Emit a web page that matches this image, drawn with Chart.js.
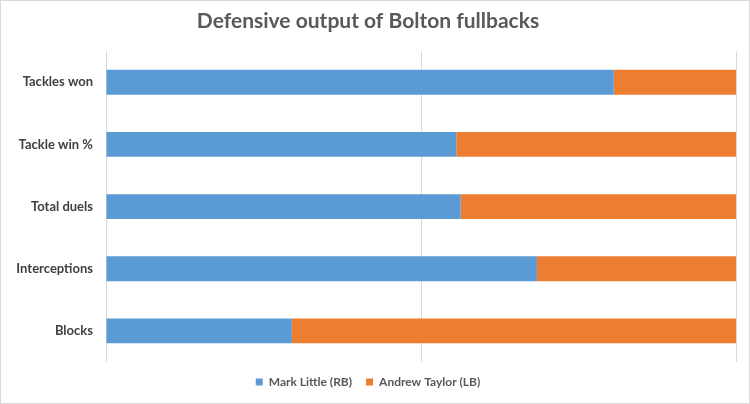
<!DOCTYPE html>
<html>
<head>
<meta charset="utf-8">
<script src="https://cdn.jsdelivr.net/npm/chart.js@4.4.0/dist/chart.umd.min.js"></script>
<style>
    html, body { margin: 0; padding: 0; background: #fff; }
    #wrap { width: 750px; height: 404px; position: relative; }
</style>
</head>
<body>
<div id="wrap"><canvas id="chart" width="750" height="404"></canvas></div>
<script>
// share of each stat, in percent
const categories = ['Tackles won', 'Tackle win %', 'Total duels', 'Interceptions', 'Blocks'];
const markLittle = [80.6, 55.6, 56.3, 68.4, 29.5];
const andrewTaylor = [19.4, 44.4, 43.7, 31.6, 70.5];
const xTicks = [0, 50, 100];

const fontFamily = 'Lato, "Open Sans", sans-serif';

// thin grey frame round the whole chart
const framePlugin = {
    id: 'frame',
    afterDraw(chart) {
        const c = chart.ctx;
        c.save();
        c.strokeStyle = '#D9D9D9';
        c.lineWidth = 1;
        c.strokeRect(0.5, 0.5, chart.width - 1, chart.height - 1);
        c.restore();
    }
};

const ctx = document.getElementById('chart').getContext('2d');

new Chart(ctx, {
    type: 'bar',
    data: {
        labels: categories,
        datasets: [{
            label: 'Mark Little (RB)',
            data: markLittle,
            backgroundColor: '#5B9BD5',
            barPercentage: 0.8,
            categoryPercentage: 0.5
        }, {
            label: 'Andrew Taylor (LB)',
            data: andrewTaylor,
            backgroundColor: '#ED7D31',
            barPercentage: 0.8,
            categoryPercentage: 0.5
        }]
    },
    plugins: [framePlugin],
    options: {
        indexAxis: 'y',
        responsive: false,
        animation: false,
        layout: {
            padding: { left: 0, right: 14, top: 0, bottom: 6 }
        },
        plugins: {
            title: {
                display: true,
                text: 'Defensive output of Bolton fullbacks',
                color: '#595959',
                font: { family: fontFamily, size: 21, weight: 'bold' },
                padding: { top: 9, bottom: 17 }
            },
            legend: {
                position: 'bottom',
                labels: {
                    color: '#595959',
                    font: { family: fontFamily, size: 12, weight: 'bold' },
                    boxWidth: 7,
                    boxHeight: 7,
                    padding: 14
                }
            },
            tooltip: { enabled: false }
        },
        scales: {
            x: {
                stacked: true,
                min: 0,
                max: 100,
                afterBuildTicks: function(scale) {
                    scale.ticks = xTicks.map(v => ({ value: v }));
                },
                ticks: { display: false },
                grid: { color: '#D9D9D9', drawTicks: false },
                border: { display: false }
            },
            y: {
                stacked: true,
                afterFit: function(scale) {
                    scale.width = 106;
                },
                ticks: {
                    color: '#404040',
                    font: { family: fontFamily, size: 13, weight: 'bold' },
                    padding: 13
                },
                grid: { display: false, drawTicks: false },
                border: { display: false }
            }
        }
    }
});
</script>
</body>
</html>
